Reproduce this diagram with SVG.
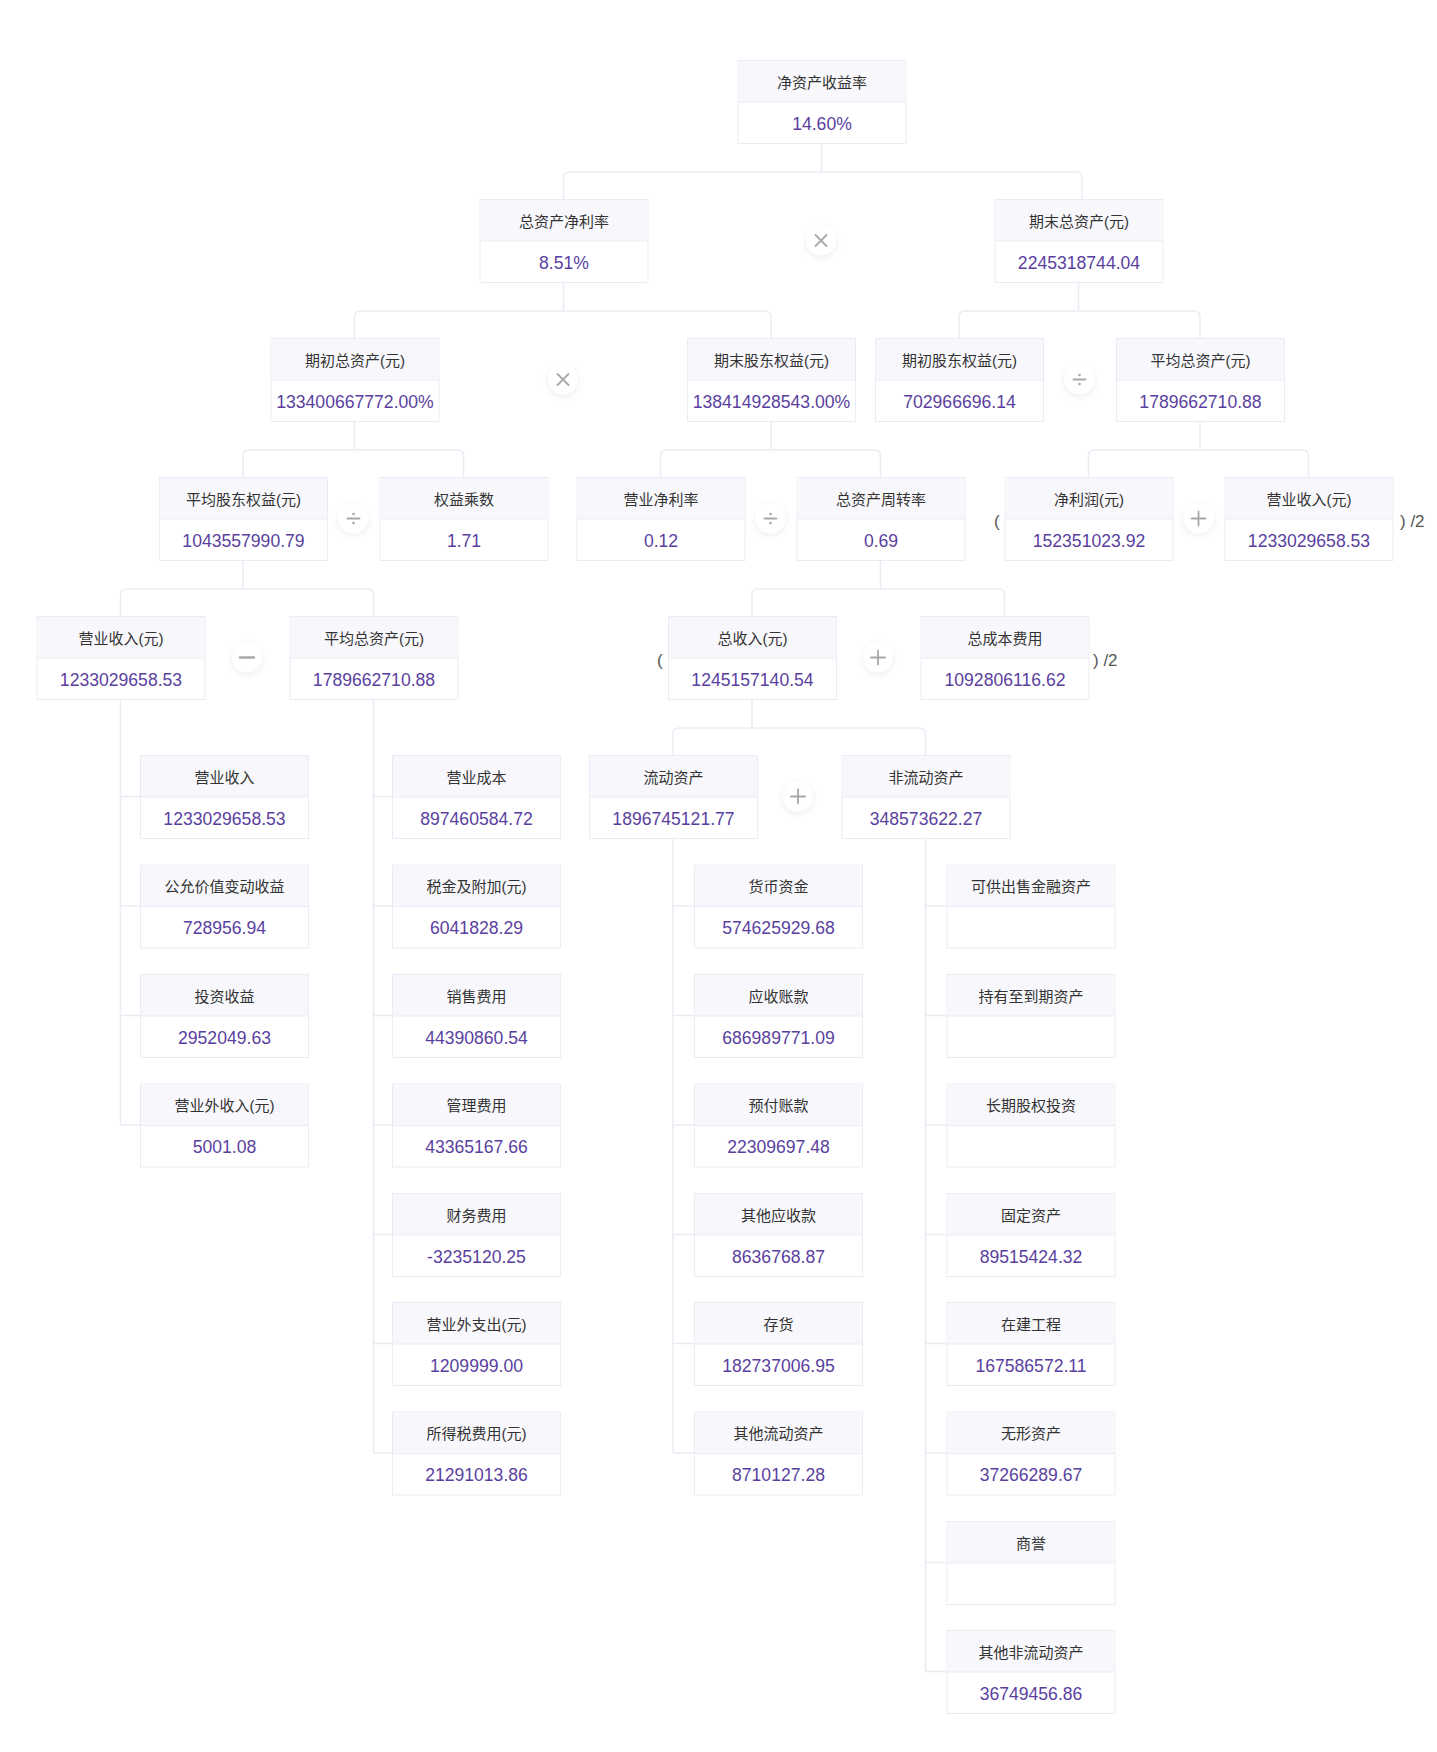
<svg xmlns="http://www.w3.org/2000/svg" width="1437" height="1752" viewBox="0 0 1437 1752">
<defs>
<style>
.b{fill:#fff;stroke:#ebebf5;stroke-width:1}
.h{fill:#f8f8fc}
.d{stroke:#ebebf5;stroke-width:1}
.t{font-family:"Liberation Sans","Noto Sans CJK SC",sans-serif;font-size:15px;fill:#333;text-anchor:middle}
.v{font-family:"Liberation Sans","Noto Sans CJK SC",sans-serif;font-size:17.6px;fill:#5b3fa0;text-anchor:middle}
.p{font-family:"Liberation Sans",sans-serif;font-size:17px;fill:#555}
.c{fill:none;stroke:#ebebf5;stroke-width:1.5}
.oc{fill:#fff;filter:url(#sh)}
.os{stroke:#a8a8a8;stroke-width:1.8;fill:none;stroke-linecap:round}
.od{fill:#a8a8a8}
</style>
<filter id="sh" x="-50%" y="-50%" width="200%" height="200%">
<feDropShadow dx="0" dy="2" stdDeviation="3" flood-color="#000" flood-opacity="0.08"/>
</filter>
<g id="box">
<rect class="b" x="0.5" y="0.5" width="168" height="83"/>
<rect class="h" x="1" y="1" width="167" height="41"/>
<line class="d" x1="0.5" y1="42" x2="168.5" y2="42"/>
</g>
</defs>
<rect width="1437" height="1752" fill="#fff"/>

<g id="connectors">
<path class="c" d="M821.5,143 V172 M563.5,199 V178 Q563.5,172 569.5,172 H1076 Q1082,172 1082,178 V199"/>
<path class="c" d="M563.5,282 V311 M354.5,338 V317 Q354.5,311 360.5,311 H765 Q771,311 771,317 V338"/>
<path class="c" d="M1078.5,282 V311 M959,338 V317 Q959,311 965,311 H1194 Q1200,311 1200,317 V338"/>
<path class="c" d="M354.5,421 V450 M243,477 V456 Q243,450 249,450 H457.5 Q463.5,450 463.5,456 V477"/>
<path class="c" d="M771,421 V450 M660.5,477 V456 Q660.5,450 666.5,450 H874.5 Q880.5,450 880.5,456 V477"/>
<path class="c" d="M1200,421 V450 M1088.5,477 V456 Q1088.5,450 1094.5,450 H1302.5 Q1308.5,450 1308.5,456 V477"/>
<path class="c" d="M243,560 V589 M120.5,616 V595 Q120.5,589 126.5,589 H367.5 Q373.5,589 373.5,595 V616"/>
<path class="c" d="M880.5,560 V589 M752,616 V595 Q752,589 758,589 H998.5 Q1004.5,589 1004.5,595 V616"/>
<path class="c" d="M752,699 V728 M673,755 V734 Q673,728 679,728 H919.5 Q925.5,728 925.5,734 V755"/>
<path class="c" d="M120.5,699 V1125 M120.5,796.5 H140 M120.5,906 H140 M120.5,1015.5 H140 M120.5,1125 H140"/>
<path class="c" d="M373.5,699 V1453 M373.5,796.5 H392 M373.5,906 H392 M373.5,1015.5 H392 M373.5,1125 H392 M373.5,1234.5 H392 M373.5,1343.5 H392 M373.5,1453 H392"/>
<path class="c" d="M673,838 V1453 M673,906 H694 M673,1015.5 H694 M673,1125 H694 M673,1234.5 H694 M673,1343.5 H694 M673,1453 H694"/>
<path class="c" d="M925.5,838 V1671.5 M925.5,906 H946.5 M925.5,1015.5 H946.5 M925.5,1125 H946.5 M925.5,1234.5 H946.5 M925.5,1343.5 H946.5 M925.5,1453 H946.5 M925.5,1562.5 H946.5 M925.5,1671.5 H946.5"/>
</g>

<g id="operators">
<g id="op-x1"><circle class="oc" cx="821" cy="240.5" r="15"/><path class="os" d="M815.5,235 L826.5,246 M826.5,235 L815.5,246"/></g>
<g id="op-x2"><circle class="oc" cx="563" cy="379.5" r="15"/><path class="os" d="M557.5,374 L568.5,385 M568.5,374 L557.5,385"/></g>
<g id="op-d1"><circle class="oc" cx="1079.5" cy="379.5" r="15"/><path class="os" d="M1073.5,379.5 H1085.5"/><circle class="od" cx="1079.5" cy="375" r="1.3"/><circle class="od" cx="1079.5" cy="384" r="1.3"/></g>
<g id="op-d2"><circle class="oc" cx="353.5" cy="518.5" r="15"/><path class="os" d="M347.5,518.5 H359.5"/><circle class="od" cx="353.5" cy="514" r="1.3"/><circle class="od" cx="353.5" cy="523" r="1.3"/></g>
<g id="op-d3"><circle class="oc" cx="770.5" cy="518.5" r="15"/><path class="os" d="M764.5,518.5 H776.5"/><circle class="od" cx="770.5" cy="514" r="1.3"/><circle class="od" cx="770.5" cy="523" r="1.3"/></g>
<g id="op-p1"><circle class="oc" cx="1198.5" cy="518.5" r="15"/><path class="os" d="M1191.5,518.5 H1205.5 M1198.5,511.5 V525.5"/></g>
<g id="op-m1"><circle class="oc" cx="247" cy="657.5" r="15"/><path class="os" d="M240,657.5 H254" style="stroke-width:2.4"/></g>
<g id="op-p2"><circle class="oc" cx="878" cy="657.5" r="15"/><path class="os" d="M871,657.5 H885 M878,650.5 V664.5"/></g>
<g id="op-p3"><circle class="oc" cx="798" cy="796.5" r="15"/><path class="os" d="M791,796.5 H805 M798,789.5 V803.5"/></g>
<text class="p" x="994" y="527">(</text>
<text class="p" x="1400" y="527">) /2</text>
<text class="p" x="657" y="666">(</text>
<text class="p" x="1093" y="666">) /2</text>
</g>

<g id="n-roe" transform="translate(737.5,60)"><use href="#box"/><text class="t" x="84.5" y="27.5">净资产收益率</text><text class="v" x="84.5" y="69.5">14.60%</text></g>
<g id="n-zzcjll" transform="translate(479.5,199)"><use href="#box"/><text class="t" x="84.5" y="27.5">总资产净利率</text><text class="v" x="84.5" y="69.5">8.51%</text></g>
<g id="n-qmzzc" transform="translate(994.5,199)"><use href="#box"/><text class="t" x="84.5" y="27.5">期末总资产(元)</text><text class="v" x="84.5" y="69.5">2245318744.04</text></g>

<g id="n-qczzc" transform="translate(270.5,338)"><use href="#box"/><text class="t" x="84.5" y="27.5">期初总资产(元)</text><text class="v" x="84.5" y="69.5">133400667772.00%</text></g>
<g id="n-qmgdqy" transform="translate(687,338)"><use href="#box"/><text class="t" x="84.5" y="27.5">期末股东权益(元)</text><text class="v" x="84.5" y="69.5">138414928543.00%</text></g>
<g id="n-qcgdqy" transform="translate(875,338)"><use href="#box"/><text class="t" x="84.5" y="27.5">期初股东权益(元)</text><text class="v" x="84.5" y="69.5">702966696.14</text></g>
<g id="n-pjzzc1" transform="translate(1116,338)"><use href="#box"/><text class="t" x="84.5" y="27.5">平均总资产(元)</text><text class="v" x="84.5" y="69.5">1789662710.88</text></g>

<g id="n-pjgdqy" transform="translate(159,477)"><use href="#box"/><text class="t" x="84.5" y="27.5">平均股东权益(元)</text><text class="v" x="84.5" y="69.5">1043557990.79</text></g>
<g id="n-qycs" transform="translate(379.5,477)"><use href="#box"/><text class="t" x="84.5" y="27.5">权益乘数</text><text class="v" x="84.5" y="69.5">1.71</text></g>
<g id="n-yyjll" transform="translate(576.5,477)"><use href="#box"/><text class="t" x="84.5" y="27.5">营业净利率</text><text class="v" x="84.5" y="69.5">0.12</text></g>
<g id="n-zzczzl" transform="translate(796.5,477)"><use href="#box"/><text class="t" x="84.5" y="27.5">总资产周转率</text><text class="v" x="84.5" y="69.5">0.69</text></g>
<g id="n-jlr" transform="translate(1004.5,477)"><use href="#box"/><text class="t" x="84.5" y="27.5">净利润(元)</text><text class="v" x="84.5" y="69.5">152351023.92</text></g>
<g id="n-yysr1" transform="translate(1224.5,477)"><use href="#box"/><text class="t" x="84.5" y="27.5">营业收入(元)</text><text class="v" x="84.5" y="69.5">1233029658.53</text></g>

<g id="n-yysr2" transform="translate(36.5,616)"><use href="#box"/><text class="t" x="84.5" y="27.5">营业收入(元)</text><text class="v" x="84.5" y="69.5">1233029658.53</text></g>
<g id="n-pjzzc2" transform="translate(289.5,616)"><use href="#box"/><text class="t" x="84.5" y="27.5">平均总资产(元)</text><text class="v" x="84.5" y="69.5">1789662710.88</text></g>
<g id="n-zsr" transform="translate(668,616)"><use href="#box"/><text class="t" x="84.5" y="27.5">总收入(元)</text><text class="v" x="84.5" y="69.5">1245157140.54</text></g>
<g id="n-zcbfy" transform="translate(920.5,616)"><use href="#box"/><text class="t" x="84.5" y="27.5">总成本费用</text><text class="v" x="84.5" y="69.5">1092806116.62</text></g>

<g id="n-yysr3" transform="translate(140,755)"><use href="#box"/><text class="t" x="84.5" y="27.5">营业收入</text><text class="v" x="84.5" y="69.5">1233029658.53</text></g>
<g id="n-gyjz" transform="translate(140,864.5)"><use href="#box"/><text class="t" x="84.5" y="27.5">公允价值变动收益</text><text class="v" x="84.5" y="69.5">728956.94</text></g>
<g id="n-tzsy" transform="translate(140,974)"><use href="#box"/><text class="t" x="84.5" y="27.5">投资收益</text><text class="v" x="84.5" y="69.5">2952049.63</text></g>
<g id="n-yywsr" transform="translate(140,1083.5)"><use href="#box"/><text class="t" x="84.5" y="27.5">营业外收入(元)</text><text class="v" x="84.5" y="69.5">5001.08</text></g>

<g id="n-yycb" transform="translate(392,755)"><use href="#box"/><text class="t" x="84.5" y="27.5">营业成本</text><text class="v" x="84.5" y="69.5">897460584.72</text></g>
<g id="n-sjfj" transform="translate(392,864.5)"><use href="#box"/><text class="t" x="84.5" y="27.5">税金及附加(元)</text><text class="v" x="84.5" y="69.5">6041828.29</text></g>
<g id="n-xsfy" transform="translate(392,974)"><use href="#box"/><text class="t" x="84.5" y="27.5">销售费用</text><text class="v" x="84.5" y="69.5">44390860.54</text></g>
<g id="n-glfy" transform="translate(392,1083.5)"><use href="#box"/><text class="t" x="84.5" y="27.5">管理费用</text><text class="v" x="84.5" y="69.5">43365167.66</text></g>
<g id="n-cwfy" transform="translate(392,1193)"><use href="#box"/><text class="t" x="84.5" y="27.5">财务费用</text><text class="v" x="84.5" y="69.5">-3235120.25</text></g>
<g id="n-yywzc" transform="translate(392,1302)"><use href="#box"/><text class="t" x="84.5" y="27.5">营业外支出(元)</text><text class="v" x="84.5" y="69.5">1209999.00</text></g>
<g id="n-sdsfy" transform="translate(392,1411.5)"><use href="#box"/><text class="t" x="84.5" y="27.5">所得税费用(元)</text><text class="v" x="84.5" y="69.5">21291013.86</text></g>

<g id="n-ldzc" transform="translate(589,755)"><use href="#box"/><text class="t" x="84.5" y="27.5">流动资产</text><text class="v" x="84.5" y="69.5">1896745121.77</text></g>
<g id="n-hbzj" transform="translate(694,864.5)"><use href="#box"/><text class="t" x="84.5" y="27.5">货币资金</text><text class="v" x="84.5" y="69.5">574625929.68</text></g>
<g id="n-yszk" transform="translate(694,974)"><use href="#box"/><text class="t" x="84.5" y="27.5">应收账款</text><text class="v" x="84.5" y="69.5">686989771.09</text></g>
<g id="n-yfzk" transform="translate(694,1083.5)"><use href="#box"/><text class="t" x="84.5" y="27.5">预付账款</text><text class="v" x="84.5" y="69.5">22309697.48</text></g>
<g id="n-qtysk" transform="translate(694,1193)"><use href="#box"/><text class="t" x="84.5" y="27.5">其他应收款</text><text class="v" x="84.5" y="69.5">8636768.87</text></g>
<g id="n-ch" transform="translate(694,1302)"><use href="#box"/><text class="t" x="84.5" y="27.5">存货</text><text class="v" x="84.5" y="69.5">182737006.95</text></g>
<g id="n-qtldzc" transform="translate(694,1411.5)"><use href="#box"/><text class="t" x="84.5" y="27.5">其他流动资产</text><text class="v" x="84.5" y="69.5">8710127.28</text></g>

<g id="n-fldzc" transform="translate(841.5,755)"><use href="#box"/><text class="t" x="84.5" y="27.5">非流动资产</text><text class="v" x="84.5" y="69.5">348573622.27</text></g>
<g id="n-kgcs" transform="translate(946.5,864.5)"><use href="#box"/><text class="t" x="84.5" y="27.5">可供出售金融资产</text></g>
<g id="n-cyzdq" transform="translate(946.5,974)"><use href="#box"/><text class="t" x="84.5" y="27.5">持有至到期资产</text></g>
<g id="n-cqgq" transform="translate(946.5,1083.5)"><use href="#box"/><text class="t" x="84.5" y="27.5">长期股权投资</text></g>
<g id="n-gdzc" transform="translate(946.5,1193)"><use href="#box"/><text class="t" x="84.5" y="27.5">固定资产</text><text class="v" x="84.5" y="69.5">89515424.32</text></g>
<g id="n-zjgc" transform="translate(946.5,1302)"><use href="#box"/><text class="t" x="84.5" y="27.5">在建工程</text><text class="v" x="84.5" y="69.5">167586572.11</text></g>
<g id="n-wxzc" transform="translate(946.5,1411.5)"><use href="#box"/><text class="t" x="84.5" y="27.5">无形资产</text><text class="v" x="84.5" y="69.5">37266289.67</text></g>
<g id="n-sy" transform="translate(946.5,1521)"><use href="#box"/><text class="t" x="84.5" y="27.5">商誉</text></g>
<g id="n-qtfldzc" transform="translate(946.5,1630)"><use href="#box"/><text class="t" x="84.5" y="27.5">其他非流动资产</text><text class="v" x="84.5" y="69.5">36749456.86</text></g>
</svg>
